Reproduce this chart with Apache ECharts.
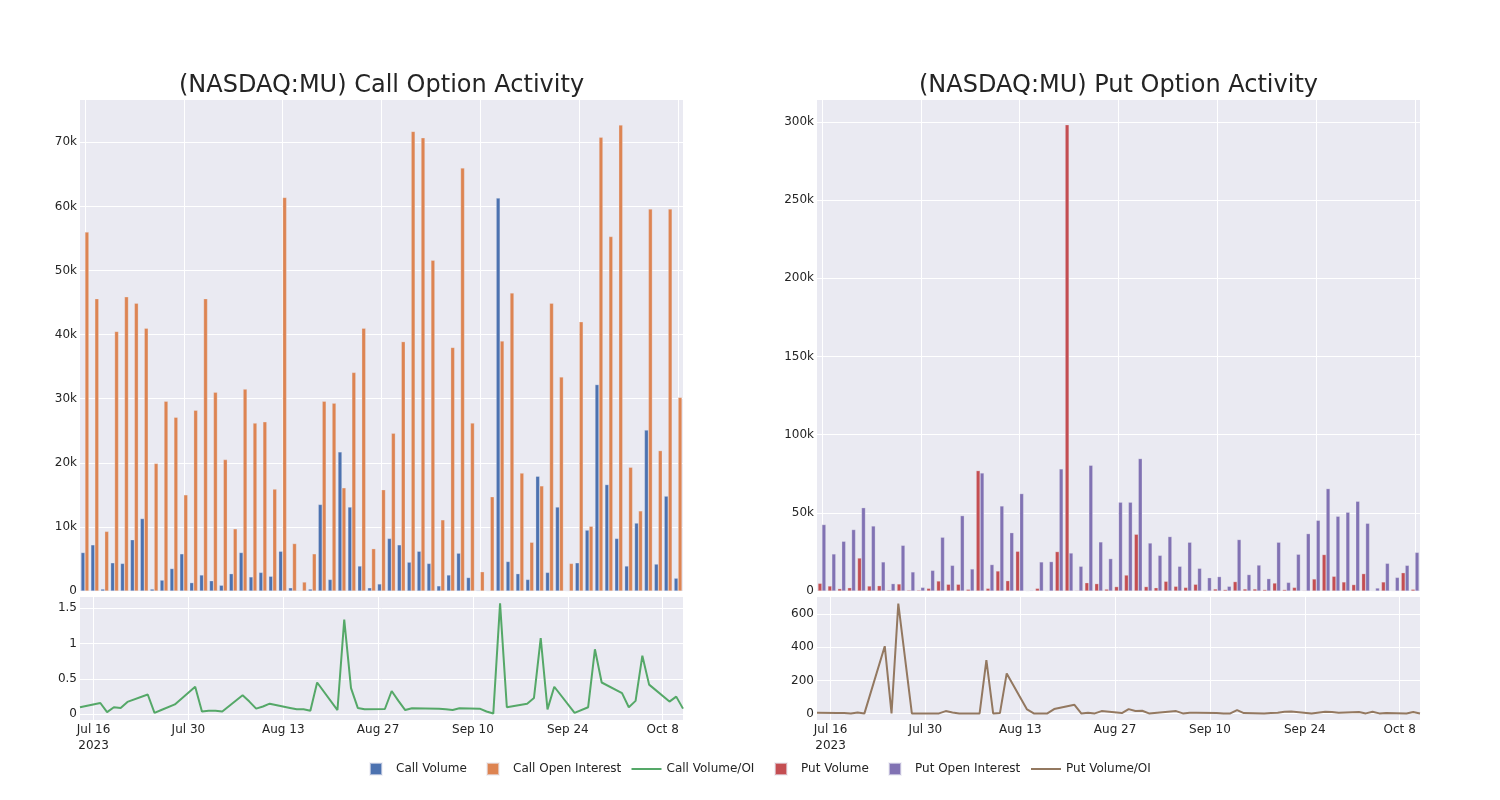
<!DOCTYPE html>
<html><head><meta charset="utf-8">
<script src="https://cdn.jsdelivr.net/npm/echarts@6/dist/echarts.min.js"></script>
<style>html,body{margin:0;padding:0;background:#fff}#c{width:1500px;height:800px}</style>
</head><body><div id="c"></div>
<script>
// ---------------- data ----------------
const dates = ['2023-07-14','2023-07-17','2023-07-18','2023-07-19','2023-07-20','2023-07-21','2023-07-24','2023-07-25','2023-07-26','2023-07-28',
 '2023-07-31','2023-08-01','2023-08-02','2023-08-03','2023-08-04','2023-08-07','2023-08-08','2023-08-09','2023-08-10','2023-08-11',
 '2023-08-14','2023-08-15','2023-08-16','2023-08-17','2023-08-18','2023-08-21','2023-08-22','2023-08-23','2023-08-24','2023-08-25',
 '2023-08-28','2023-08-29','2023-08-30','2023-08-31','2023-09-01','2023-09-05','2023-09-06','2023-09-07','2023-09-08','2023-09-11',
 '2023-09-12','2023-09-13','2023-09-14','2023-09-15','2023-09-18','2023-09-19','2023-09-20','2023-09-21','2023-09-22','2023-09-25',
 '2023-09-27','2023-09-28','2023-09-29','2023-10-02','2023-10-03','2023-10-04','2023-10-05','2023-10-06','2023-10-09','2023-10-10','2023-10-11'];

const callVolume = [6000,7200,300,4400,4300,8000,11300,300,1700,3500,
 5800,1300,2500,1600,900,2700,6000,2200,2900,2300,
 6200,500,60,300,13500,1800,21700,13100,3900,500,
 1100,8200,7200,4500,6200,4300,800,2500,5900,2100,
 100,50,61300,4600,2700,1800,17900,2900,13100,40,
 4400,9500,32200,16600,8200,3900,10600,25100,4200,14800,2000];

const callOpenInterest = [56000,45600,9300,40500,45900,44900,41000,19900,29600,27100,
 15000,28200,45600,31000,20500,9700,31500,26200,26400,15900,
 61400,7400,1400,5800,29600,29300,16100,34100,41000,6600,
 15800,24600,38900,71700,70700,51600,11100,38000,66000,26200,
 3000,14700,39000,46500,18400,7600,16400,44900,33400,4300,
 42000,10100,70800,55300,72700,19300,12500,59600,21900,59600,30200];

const callVolumeOI = [0.10,0.16,0.03,0.10,0.09,0.175,0.28,0.02,0.06,0.14,
 0.39,0.04,0.05,0.05,0.04,0.27,0.18,0.08,0.11,0.15,
 0.09,0.07,0.07,0.05,0.45,0.06,1.34,0.37,0.09,0.07,
 0.075,0.33,0.19,0.06,0.085,0.08,0.07,0.06,0.085,0.08,
 0.04,0.01,1.57,0.10,0.15,0.23,1.08,0.07,0.39,0.02,
 0.10,0.92,0.45,0.30,0.10,0.19,0.83,0.42,0.18,0.25,0.08];

const putVolume = [4900,3200,1500,2100,21100,3200,3400,600,4500,600,
 600,1700,6400,4300,4300,1100,77000,1700,12800,6600,
 25400,100,1700,100,25200,298300,400,5300,4700,1200,
 2800,10200,36300,2800,2100,6200,3000,2300,4300,100,
 1300,900,6000,1300,1300,900,5100,900,2300,400,
 7700,23300,9400,5800,4100,11100,200,5800,200,11700,1100];

const putOpenInterest = [42500,23700,31800,39300,53300,41600,18600,4700,29200,12200,
 2300,13200,34400,16400,48200,14100,75500,16900,54400,37300,
 62300,400,18600,18800,78100,24300,15800,80400,31400,20700,
 56800,56800,84700,30700,22800,34800,15800,31200,14500,8500,
 9200,3000,32900,10500,16600,7900,31200,5500,23500,36700,
 45200,65500,47800,50400,57400,43300,1900,17700,8700,16400,24700];

const putVolumeOI = [4,2,2,0,6,0,407,0,665,0,
 0,0,14,6,0,0,322,0,2,242,
 24,0,0,0,26,52,0,4,0,14,
 2,26,14,16,0,14,0,4,4,2,
 0,0,20,2,0,2,4,10,12,0,
 10,8,4,8,0,10,0,2,0,8,0];

const tickDates = ['2023-07-16','2023-07-30','2023-08-13','2023-08-27','2023-09-10','2023-09-24','2023-10-08'];
const tickLabels = ['Jul 16\n2023','Jul 30','Aug 13','Aug 27','Sep 10','Sep 24','Oct 8'];

const titles = ['(NASDAQ:MU) Call Option Activity', '(NASDAQ:MU) Put Option Activity'];
const seriesNames = ['Call Volume','Call Open Interest','Call Volume/OI','Put Volume','Put Open Interest','Put Volume/OI'];

// ---------------- chart ----------------
// date axis as a value axis counted in days from the first tick date
const DAY = 86400000;
const ref = Date.parse(tickDates[0]);
const dayOf = s => Math.round((Date.parse(s) - ref) / DAY);
const tickDays = tickDates.map(dayOf);
const TXT = 'rgb(36,36,36)';
const BG = '#EAEAF2';
const FONT = 'DejaVu Sans';
const kFmt = v => v === 0 ? '0' : (v / 1000) + 'k';

const grids = [
  {left: 80, width: 603, top: 100, height: 491},
  {left: 80, width: 603, top: 597, height: 123},
  {left: 817, width: 603, top: 100, height: 491},
  {left: 817, width: 603, top: 597, height: 123}
].map(g => Object.assign(g, {show: true, backgroundColor: BG, borderWidth: 0, outerBoundsMode: 'none', containLabel: false}));

const hidden = {axisLine: {show: false}, axisTick: {show: false}};
const WL = {color: '#ffffff', width: 1};

function catAxis(gi) {
  return Object.assign({type: 'category', gridIndex: gi, data: dates, axisLabel: {show: false}, splitLine: {show: false}}, hidden);
}
function idxAxis(gi) {
  return Object.assign({type: 'value', gridIndex: gi, min: -0.5, max: dates.length - 0.5, minInterval: 10, maxInterval: 10,
    position: 'top', axisLabel: {show: false}, splitLine: {show: true, lineStyle: WL, showMinLine: false, showMaxLine: false}}, hidden);
}
function dayAxis(gi) {
  const step = tickDays[1] - tickDays[0];
  return Object.assign({type: 'value', gridIndex: gi, min: dayOf(dates[0]), max: dayOf(dates[dates.length - 1]),
    minInterval: step, maxInterval: step,
    axisLabel: {color: TXT, fontSize: 12, fontFamily: FONT, margin: 2, lineHeight: 16, showMinLabel: false, showMaxLabel: false,
      formatter: v => { const i = tickDays.indexOf(Math.round(v)); return i >= 0 ? tickLabels[i] : ''; }},
    splitLine: {show: true, lineStyle: WL, showMinLine: false, showMaxLine: false}}, hidden);
}
function yAxis(gi, showMin, o, fmt) {
  return Object.assign({type: 'value', gridIndex: gi,
    axisLabel: {color: TXT, fontSize: 12, fontFamily: FONT, margin: 3, formatter: fmt, showMinLabel: showMin, showMaxLabel: false},
    splitLine: {show: true, lineStyle: WL, showMinLine: showMin, showMaxLine: false}}, hidden, o);
}

const barStyle = c => ({color: c, borderColor: 'rgba(234,234,242,0.6)', borderWidth: 0.5});
const sq = 'path://M0,0H12V12H0Z';
const ln = 'path://M0,0H30V2H0Z';
const legendIcons = [sq, sq, ln, sq, sq, ln];
const legendLefts = [369, 486, 631.5, 774, 888, 1031];
const legendTops = [762, 762, 763, 762, 762, 763];

const option = {
  animation: false,
  backgroundColor: '#ffffff',
  textStyle: {fontFamily: FONT, color: TXT},
  title: [
    {text: titles[0], left: 381.5, textAlign: 'center', top: 74, padding: 0, textStyle: {fontSize: 24, fontWeight: 'normal', color: TXT, fontFamily: FONT}},
    {text: titles[1], left: 1118.5, textAlign: 'center', top: 74, padding: 0, textStyle: {fontSize: 24, fontWeight: 'normal', color: TXT, fontFamily: FONT}}
  ],
  legend: seriesNames.map((n, i) => ({
    data: [{name: n, icon: legendIcons[i]}], left: legendLefts[i], top: legendTops[i], padding: 0,
    itemWidth: 30, itemHeight: 12, symbolKeepAspect: true,
    textStyle: {fontSize: 12, color: TXT, fontFamily: FONT}})),
  grid: grids,
  xAxis: [catAxis(0), idxAxis(0), dayAxis(1), catAxis(2), idxAxis(2), dayAxis(3)],
  yAxis: [
    yAxis(0, true, {min: 0, max: 76600, interval: 10000}, kFmt),
    yAxis(1, false, {min: -0.081, max: 1.661, minInterval: 0.5, maxInterval: 0.5}, v => String(v)),
    yAxis(2, true, {min: 0, max: 314100, interval: 50000}, kFmt),
    yAxis(3, false, {min: -40, max: 705, minInterval: 200, maxInterval: 200}, v => String(v))
  ],
  series: [
    {name: seriesNames[0], type: 'bar', xAxisIndex: 0, yAxisIndex: 0, data: callVolume, itemStyle: barStyle('#4C72B0'), barGap: '0%', barCategoryGap: '20%'},
    {name: seriesNames[1], type: 'bar', xAxisIndex: 0, yAxisIndex: 0, data: callOpenInterest, itemStyle: barStyle('#DD8452'), barGap: '0%', barCategoryGap: '20%'},
    {name: seriesNames[2], type: 'line', xAxisIndex: 2, yAxisIndex: 1, data: dates.map((d, i) => [dayOf(d), callVolumeOI[i]]),
     symbol: 'none', color: '#55A868', lineStyle: {width: 2, color: '#55A868'}},
    {name: seriesNames[3], type: 'bar', xAxisIndex: 3, yAxisIndex: 2, data: putVolume, itemStyle: barStyle('#C44E52'), barGap: '0%', barCategoryGap: '20%'},
    {name: seriesNames[4], type: 'bar', xAxisIndex: 3, yAxisIndex: 2, data: putOpenInterest, itemStyle: barStyle('#8172B3'), barGap: '0%', barCategoryGap: '20%'},
    {name: seriesNames[5], type: 'line', xAxisIndex: 5, yAxisIndex: 3, data: dates.map((d, i) => [dayOf(d), putVolumeOI[i]]),
     symbol: 'none', color: '#937860', lineStyle: {width: 2, color: '#937860'}}
  ]
};
const chart = echarts.init(document.getElementById('c'), null, {renderer: 'canvas'});
chart.setOption(option);
</script>
</body></html>
